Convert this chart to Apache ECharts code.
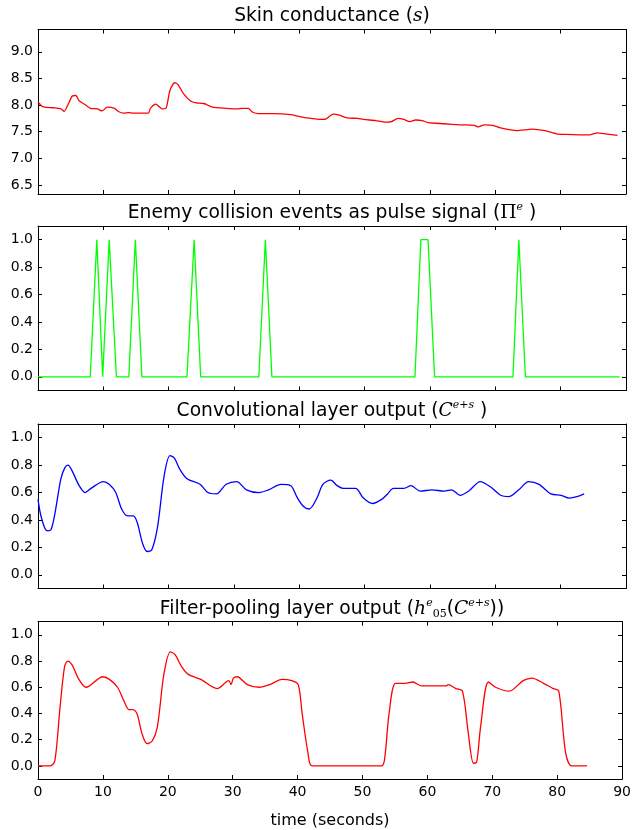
<!DOCTYPE html>
<html>
<head>
<meta charset="utf-8">
<title>Skin conductance / pulse / conv / pooling</title>
<script src="https://cdn.jsdelivr.net/npm/echarts@6/dist/echarts.min.js"></script>
<style>
  html, body { margin: 0; padding: 0; background: #fff; }
  #chart { width: 634px; height: 830px; }
</style>
</head>
<body>
<div id="chart"></div>
<script>
// skin conductance (s), seconds / value
const skinTime = [0, 0.7, 2.3, 3.5, 4.0, 4.75, 5.25, 5.8, 6.3, 7.2, 8.0, 9.1, 9.8, 10.6, 11.7, 12.3, 13.1, 13.9, 14.6, 16.9,
  17.2, 18.0, 19.0, 19.6, 20.2, 20.9, 21.4, 22.3, 23.3, 24.2, 25.4, 26.7, 28.8, 30.4, 31.3, 32.2, 32.8, 33.8, 36.2, 38.7,
  39.9, 41.2, 43.6, 44.1, 45.2, 46.1, 47.3, 48.9, 49.8, 51.7, 52.6, 53.5, 54.1, 55.1, 56.0, 56.9, 57.8, 58.8, 59.7, 62.2,
  64.6, 66.8, 67.4, 68.3, 69.6, 70.8, 73.3, 75.7, 77.6, 79.4, 80.7, 84.4, 85.6, 86.9, 88.7];
const skinValue = [8.06, 7.97, 7.95, 7.93, 7.88, 8.05, 8.17, 8.18, 8.08, 8.01, 7.94, 7.93, 7.89, 7.96, 7.94, 7.88, 7.85, 7.86, 7.85, 7.85,
  7.94, 8.02, 7.93, 7.94, 8.28, 8.42, 8.39, 8.21, 8.08, 8.04, 8.03, 7.96, 7.94, 7.93, 7.94, 7.94, 7.87, 7.84, 7.84, 7.82,
  7.79, 7.76, 7.73, 7.74, 7.83, 7.81, 7.76, 7.75, 7.73, 7.71, 7.69, 7.68, 7.69, 7.75, 7.73, 7.69, 7.72, 7.71, 7.67, 7.65,
  7.63, 7.62, 7.59, 7.63, 7.62, 7.57, 7.52, 7.55, 7.52, 7.46, 7.45, 7.44, 7.48, 7.46, 7.43];

// enemy collision pulses
const pulseTime = [0, 8.0, 9.0, 9.9, 10.9, 12.0, 13.9, 14.9, 15.9, 22.8, 23.9, 24.9, 33.8, 34.8, 35.8,
  57.7, 58.6, 59.7, 60.7, 72.7, 73.6, 74.6, 89];
const pulseValue = [0, 0, 1, 0, 1, 0, 0, 1, 0, 0, 1, 0, 0, 1, 0,
  0, 1, 1, 0, 0, 1, 0, 0];

// convolutional layer output
const convTime = [0, 0.4, 1.05, 1.5, 2.0, 2.6, 3.5, 4.1, 4.6, 5.2, 6.3, 7.2, 8.1, 10.0, 10.9, 11.9, 12.8, 13.7, 14.6, 15.2,
  16.0, 16.7, 17.4, 18.3, 19.3, 20.2, 20.9, 21.7, 22.8, 24.8, 26.0, 27.3, 28.8, 30.4, 31.9, 33.8, 35.3, 37.2, 38.7, 39.6,
  40.6, 41.5, 42.7, 43.6, 44.8, 45.8, 46.7, 48.6, 49.8, 51.2, 52.6, 53.5, 54.4, 56.0, 57.1, 58.5, 60.3, 62.2, 63.3, 64.6,
  65.9, 67.7, 69.3, 70.8, 72.0, 73.6, 75.1, 76.7, 78.5, 80.1, 81.3, 82.5, 83.6];
const convValue = [0.55, 0.44, 0.34, 0.32, 0.33, 0.45, 0.70, 0.78, 0.80, 0.76, 0.65, 0.60, 0.63, 0.68, 0.66, 0.60, 0.48, 0.43, 0.43, 0.38,
  0.23, 0.17, 0.18, 0.35, 0.72, 0.87, 0.85, 0.77, 0.70, 0.66, 0.60, 0.59, 0.66, 0.68, 0.62, 0.60, 0.62, 0.66, 0.65, 0.57,
  0.50, 0.48, 0.56, 0.66, 0.69, 0.65, 0.63, 0.63, 0.56, 0.52, 0.55, 0.59, 0.63, 0.63, 0.65, 0.61, 0.62, 0.61, 0.62, 0.58,
  0.61, 0.68, 0.64, 0.58, 0.57, 0.62, 0.68, 0.66, 0.59, 0.58, 0.56, 0.57, 0.59];

// filter-pooling layer output
const poolTime = [0, 1.9, 2.6, 3.4, 4.1, 4.6, 5.25, 6.3, 7.4, 10.0, 11.0, 12.25, 13.2, 14.0, 14.6, 15.25, 16.0, 16.8, 17.6, 18.4,
  19.4, 20.4, 21.1, 22.1, 23.1, 25.1, 27.6, 29.4, 29.75, 30.1, 30.7, 32.25, 34.1, 35.7, 37.6, 39.1, 40.1, 40.7, 41.6, 42.25,
  52.9, 53.4, 54.1, 55.1, 56.6, 57.75, 59.1, 62.9, 63.2, 64.4, 65.4, 66.3, 67.1, 67.6, 68.2, 69.4, 70.5, 72.6, 74.75, 76.1,
  77.9, 79.4, 80.25, 81.3, 82.25, 84.6];
const poolValue = [0, 0, 0.04, 0.45, 0.76, 0.80, 0.77, 0.66, 0.60, 0.68, 0.66, 0.60, 0.50, 0.43, 0.43, 0.40, 0.25, 0.17, 0.19, 0.30,
  0.70, 0.87, 0.85, 0.76, 0.70, 0.66, 0.59, 0.65, 0.62, 0.67, 0.68, 0.62, 0.60, 0.62, 0.66, 0.65, 0.62, 0.40, 0.10, 0,
  0, 0.05, 0.40, 0.63, 0.63, 0.64, 0.61, 0.61, 0.62, 0.59, 0.57, 0.25, 0.02, 0.03, 0.30, 0.64, 0.60, 0.57, 0.65, 0.67,
  0.63, 0.59, 0.57, 0.10, 0, 0];

const skinTicks = [6.5, 7.0, 7.5, 8.0, 8.5, 9.0];
const unitTicks = [0, 0.2, 0.4, 0.6, 0.8, 1.0];

const FONT = 'DejaVu Sans';
const MATH = 'DejaVu Serif';

const pair = (xs, ys) => xs.map((x, i) => [x, ys[i]]);

const panels = [
  {
    title: 'Skin conductance ({m|s})',
    top: 29.5, min: 6.33, max: 9.42, ticks: skinTicks,
    data: pair(skinTime, skinValue), color: '#ff0000', smooth: 0.2
  },
  {
    title: 'Enemy collision events as pulse signal ({r|Π}{sup|e} )',
    top: 226, min: -0.1, max: 1.1, ticks: unitTicks,
    data: pair(pulseTime, pulseValue), color: '#00ff00', smooth: false
  },
  {
    title: 'Convolutional layer output ({c|C}{sup|e+s} )',
    top: 424, min: -0.1, max: 1.1, ticks: unitTicks,
    data: pair(convTime, convValue), color: '#0000ff', smooth: 0.3
  },
  {
    title: 'Filter-pooling layer output ({m|h}{sup|e}{sub|05}({c|C}{sup|e+s}))',
    top: 621.7, min: -0.1, max: 1.1, ticks: unitTicks,
    data: pair(poolTime, poolValue), color: '#ff0000', smooth: 0.3
  }
];

const PLOT_H = 164.5;
const LEFT = 38;
const RIGHT = 8;
const CX = (LEFT + 634 - RIGHT) / 2;
const TITLE_SIZE = 18.7;

const richStyles = {
  m: { fontFamily: MATH, fontStyle: 'italic', fontSize: TITLE_SIZE, color: '#000' },
  r: { fontFamily: MATH, fontSize: TITLE_SIZE, color: '#000' },
  c: { fontFamily: MATH, fontStyle: 'italic', fontSize: TITLE_SIZE, color: '#000' },
  sup: { fontFamily: MATH, fontStyle: 'italic', fontSize: 11, color: '#000', verticalAlign: 'top', lineHeight: 22 },
  sub: { fontFamily: MATH, fontSize: 11, color: '#000', verticalAlign: 'bottom', lineHeight: 22 }
};

const grid = [], xAxis = [], yAxis = [], series = [], title = [];

const axisBase = {
  type: 'value',
  axisLine: { show: true, onZero: false, lineStyle: { color: '#000', width: 1 } },
  axisTick: { show: true, inside: true, length: 4, lineStyle: { color: '#000', width: 1 } },
  splitLine: { show: false }
};

panels.forEach((p, i) => {
  const last = i === panels.length - 1;
  grid.push({ left: LEFT, right: RIGHT, top: p.top, height: PLOT_H, containLabel: false });

  title.push({
    text: p.title,
    left: CX,
    top: p.top - 24,
    padding: 0,
    textAlign: 'center',
    textStyle: { fontFamily: FONT, fontSize: TITLE_SIZE, fontWeight: 'normal', color: '#000', lineHeight: 22, rich: richStyles }
  });

  // bottom x
  xAxis.push(Object.assign({}, axisBase, {
    gridIndex: i, position: 'bottom', min: 0, max: 90, interval: 10,
    axisLabel: { show: last, margin: 6, fontFamily: FONT, fontSize: 14, color: '#000' },
    name: last ? 'time (seconds)' : '',
    nameLocation: 'middle', nameGap: 34,
    nameTextStyle: { fontFamily: FONT, fontSize: 16, color: '#000' }
  }));
  // top x (ticks only)
  xAxis.push(Object.assign({}, axisBase, {
    gridIndex: i, position: 'top', min: 0, max: 90, interval: 10,
    axisLabel: { show: false }
  }));
  // left y
  yAxis.push(Object.assign({}, axisBase, {
    gridIndex: i, position: 'left', min: p.min, max: p.max,
    axisTick: Object.assign({}, axisBase.axisTick, { customValues: p.ticks }),
    axisLabel: {
      show: true, margin: 5, fontFamily: FONT, fontSize: 14, color: '#000',
      customValues: p.ticks, formatter: v => v.toFixed(1)
    }
  }));
  // right y (ticks only)
  yAxis.push(Object.assign({}, axisBase, {
    gridIndex: i, position: 'right', min: p.min, max: p.max,
    axisTick: Object.assign({}, axisBase.axisTick, { customValues: p.ticks }),
    axisLabel: { show: false }
  }));

  series.push({
    type: 'line',
    xAxisIndex: i * 2,
    yAxisIndex: i * 2,
    data: p.data,
    smooth: p.smooth,
    showSymbol: false,
    lineStyle: { color: p.color, width: 1.3 },
    itemStyle: { color: p.color },
    clip: true,
    animation: false
  });
});

const chart = echarts.init(document.getElementById('chart'), null, { renderer: 'canvas' });
chart.setOption({
  backgroundColor: '#fff',
  animation: false,
  title,
  grid,
  xAxis,
  yAxis,
  series
});
</script>
</body>
</html>
